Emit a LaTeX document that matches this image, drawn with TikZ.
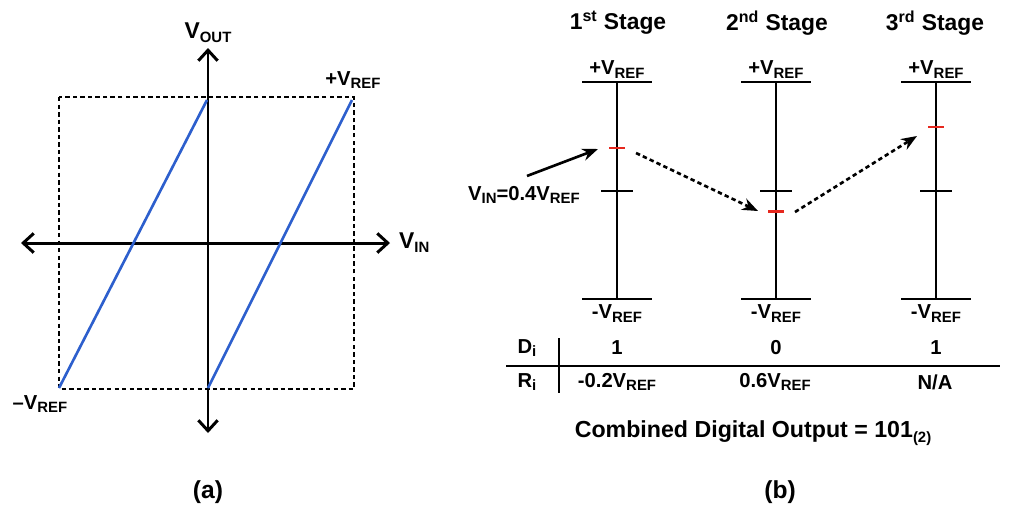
\documentclass[tikz,border=0pt]{standalone}
\usepackage{fontspec}
\setmainfont{Liberation Sans}
\usepackage{tikz}
\usetikzlibrary{positioning, arrows.meta}
\usetikzlibrary{calc}
\definecolor{lineblue}{RGB}{45,95,205}
\definecolor{markred}{RGB}{230,40,30}
\tikzstyle{lbl} = [font=\bfseries\fontsize{11.5}{13}\selectfont, inner sep=1pt]
\tikzstyle{title} = [font=\bfseries\fontsize{13}{15}\selectfont, inner sep=1pt]
\tikzstyle{axis} = [line width=1.7pt, {Straight Barb[length=6pt,width=11pt]}-{Straight Barb[length=6pt,width=11pt]}]
\tikzstyle{bar} = [line width=1.6pt]
\tikzstyle{redmark} = [line width=1.7pt, markred]
\tikzstyle{ramp} = [line width=1.5pt, lineblue]
\tikzstyle{arrow} = [line width=1.5pt,-{Stealth[length=9pt,width=7pt]}]
\tikzstyle{dasharrow} = [arrow, dash pattern=on 2.5pt off 1.8pt]
\newcommand{\lo}[1]{\raisebox{-0.35ex}{\fontsize{8.5}{9}\selectfont #1}}

\begin{document}
\begin{tikzpicture}[x=0.02cm,y=-0.02cm]
		\useasboundingbox (0,0) rectangle (1020,518);
		% (a) transfer curve
		\draw [line width=1.6pt, dash pattern=on 2.5pt off 1.8pt] (59,97) rectangle (354,389);
		\coordinate (ytop) at (208,48);
		\coordinate (ybot) at (208,433);
		\coordinate (xleft) at (21,243);
		\coordinate (xright) at (390,243);
		\draw [axis] (ybot) -- (ytop);
		\draw [axis] (xleft) -- (xright);
		\draw [ramp] (59,388) -- (207,100);
		\draw [ramp] (208,388) -- (352,100);
		\node (vout) [title, above=2pt of ytop] {V\lo{OUT}};
		\node (vin) [title, right=4pt of xright] {V\lo{IN}};
		\node (pref) [lbl] at (353,80) {+V\lo{REF}};
		\node (nref) [lbl] at (40,404) {\textendash V\lo{REF}};
		\node (capa) [title, font=\bfseries\fontsize{14}{16}\selectfont] at (208,492) {(a)};
		% (b) stages
		\node (st1) [title] at (618,23) {1\textsuperscript{st} Stage};
		\node (st2) [title] at (777,23) {2\textsuperscript{nd} Stage};
		\node (st3) [title] at (935,23) {3\textsuperscript{rd} Stage};
		\coordinate (top1) at (617,82);
		\coordinate (top2) at (776,82);
		\coordinate (top3) at (936,82);
		\coordinate (bot1) at (617,299);
		\coordinate (bot2) at (776,299);
		\coordinate (bot3) at (936,299);
		\node (p1) [lbl, above=1pt of top1] {+V\lo{REF}};
		\node (p2) [lbl, above=1pt of top2] {+V\lo{REF}};
		\node (p3) [lbl, above=1pt of top3] {+V\lo{REF}};
		\node (m1) [lbl, below=2pt of bot1] {-V\lo{REF}};
		\node (m2) [lbl, below=2pt of bot2] {-V\lo{REF}};
		\node (m3) [lbl, below=2pt of bot3] {-V\lo{REF}};
		\draw [bar] (top1) -- (bot1);
		\draw [bar] (top2) -- (bot2);
		\draw [bar] (top3) -- (bot3);
		\draw [bar] ($(top1)+(-35,0)$) -- ($(top1)+(35,0)$);
		\draw [bar] ($(top2)+(-35,0)$) -- ($(top2)+(35,0)$);
		\draw [bar] ($(top3)+(-35,0)$) -- ($(top3)+(35,0)$);
		\draw [bar] ($(bot1)+(-35,0)$) -- ($(bot1)+(35,0)$);
		\draw [bar] ($(bot2)+(-35,0)$) -- ($(bot2)+(35,0)$);
		\draw [bar] ($(bot3)+(-35,0)$) -- ($(bot3)+(35,0)$);
		\draw [bar] (601,191) -- (633,191);
		\draw [bar] (760,191) -- (792,191);
		\draw [bar] (920,191) -- (952,191);
		% residues
		\coordinate (in1) at (617,148);
		\coordinate (in2) at (776,211);
		\coordinate (in3) at (936,127);
		\draw [redmark] ($(in1)+(-8,0)$) -- ($(in1)+(8,0)$);
		\draw [redmark] ($(in2)+(-8,0)$) -- ($(in2)+(8,0)$);
		\draw [redmark] ($(in3)+(-8,0)$) -- ($(in3)+(8,0)$);
		\node (vinlbl) [lbl] at (524,195) {V\lo{IN}=0.4V\lo{REF}};
		\draw [arrow] ($(vinlbl.north)+(3,-8)$) -- ($(in1)+(-19,1)$);
		\draw [dasharrow] ($(in1)+(19,5)$) -- ($(in2)+(-18,0)$);
		\draw [dasharrow] ($(in2)+(19,1)$) -- ($(in3)+(-19,9)$);
		% table
		\node (di) [lbl] at (527,348) {D\lo{i}};
		\node (ri) [lbl] at (527,382) {R\lo{i}};
		\node (d1) [lbl] at (617,348) {1};
		\node (d2) [lbl] at (776,348) {0};
		\node (d3) [lbl] at (936,348) {1};
		\node (r1) [lbl] at (617,382) {-0.2V\lo{REF}};
		\node (r2) [lbl] at (775,382) {0.6V\lo{REF}};
		\node (r3) [lbl] at (935,382) {N/A};
		\draw [bar] (559,338) -- (559,393);
		\draw [bar] (506,366) -- (1000,366);
		\node (out) [lbl, font=\bfseries\fontsize{13.2}{15}\selectfont] at (753,433) {Combined Digital Output = 101\lo{(2)}};
		\node (capb) [title, font=\bfseries\fontsize{14}{16}\selectfont] at (780,492) {(b)};
	\end{tikzpicture}
\end{document}
